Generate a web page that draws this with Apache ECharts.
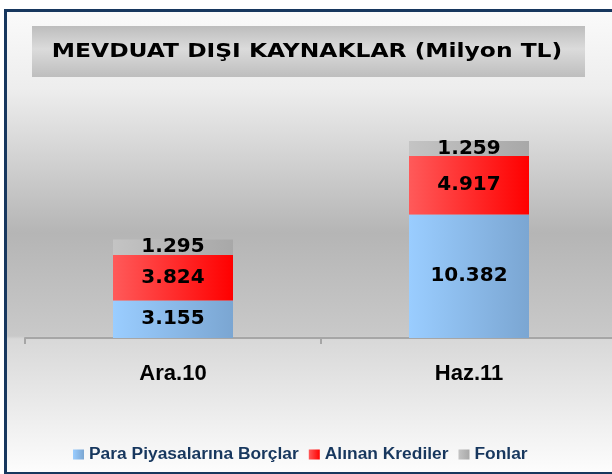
<!DOCTYPE html>
<html>
<head>
<meta charset="utf-8">
<script src="https://cdn.jsdelivr.net/npm/echarts@6/dist/echarts.min.js"></script>
<style>
  html, body { margin: 0; padding: 0; background: #ffffff; }
  #frame {
    position: absolute; left: 4px; top: 9px; width: 640px; height: 466px;
    box-sizing: border-box; border: 3px solid #17375E;
    background: linear-gradient(to bottom, #FAFAFA 0px, #EDEDED 78px, #B5B5B5 221px, #C9C9C9 324px, #D8D8D8 327px, #FCFCFC 458px);
  }
  #chart { position: absolute; left: 0; top: 0; width: 612px; height: 474px; }
</style>
</head>
<body>
<div id="frame"></div>
<div id="chart"></div>
<script>
const titleText = 'MEVDUAT DIŞI KAYNAKLAR (Milyon TL)';
const categories = ['Ara.10', 'Haz.11'];
const seriesNames = ['Para Piyasalarına Borçlar', 'Alınan Krediler', 'Fonlar'];
const paraPiyasalarinaBorclar = [3155, 10382];
const alinanKrediler = [3824, 4917];
const fonlar = [1295, 1259];

function fmt(v) {
  return String(v).replace(/\B(?=(\d{3})+(?!\d))/g, '.');
}
function hGrad(c0, c1) {
  return new echarts.graphic.LinearGradient(0, 0, 1, 0, [
    { offset: 0, color: c0 }, { offset: 1, color: c1 }
  ]);
}
const labelStyle = {
  show: true, position: 'inside', color: '#000000',
  fontFamily: 'DejaVu Sans', fontWeight: 'bold', fontSize: 20,
  formatter: p => fmt(p.value)
};

const chart = echarts.init(document.getElementById('chart'), null, { renderer: 'canvas' });
chart.setOption({
  animation: false,
  graphic: [
    {
      type: 'rect', z: -10,
      shape: { x: 32, y: 26, width: 553, height: 51 },
      style: {
        fill: new echarts.graphic.LinearGradient(0, 0, 0, 1, [
          { offset: 0, color: '#BDBDBD' },
          { offset: 0.45, color: '#DBDBDB' },
          { offset: 1, color: '#BEBEBE' }
        ])
      }
    },
    {
      type: 'text', z: 10,
      x: 307, y: 52, scaleX: 1.23, scaleY: 1,
      style: {
        text: titleText, x: 0, y: 0,
        font: 'bold 19px "DejaVu Sans"', fill: '#000000',
        align: 'center', verticalAlign: 'middle'
      }
    }
  ],
  legend: {
    data: seriesNames,
    left: 73, top: 446, padding: 0,
    icon: 'rect', itemWidth: 11, itemHeight: 10, itemGap: 10,
    textStyle: { color: '#17375E', fontFamily: 'Liberation Sans', fontWeight: 'bold', fontSize: 17.4 }
  },
  grid: { left: 25, width: 592, top: 100, height: 238, containLabel: false, outerBoundsMode: 'none' },
  xAxis: {
    type: 'category', data: categories,
    axisLine: { lineStyle: { color: '#A6A6A6', width: 2 } },
    axisTick: { show: true, length: 6, lineStyle: { color: '#A6A6A6', width: 2 } },
    axisLabel: { color: '#000000', fontFamily: 'Liberation Sans', fontWeight: 'bold', fontSize: 22, margin: 25 }
  },
  yAxis: {
    type: 'value', min: 0, max: 20000, show: false,
    splitLine: { show: false }
  },
  series: [
    {
      name: seriesNames[0], type: 'bar', stack: 'total', barWidth: 120,
      data: paraPiyasalarinaBorclar,
      itemStyle: { color: hGrad('#9ACDFF', '#7BA6D2') },
      label: labelStyle
    },
    {
      name: seriesNames[1], type: 'bar', stack: 'total', barWidth: 120,
      data: alinanKrediler,
      itemStyle: { color: hGrad('#FF5A5A', '#FF0000') },
      label: labelStyle
    },
    {
      name: seriesNames[2], type: 'bar', stack: 'total', barWidth: 120,
      data: fonlar,
      itemStyle: { color: hGrad('#C4C4C4', '#A8A8A8') },
      label: labelStyle
    }
  ]
});
</script>
</body>
</html>
